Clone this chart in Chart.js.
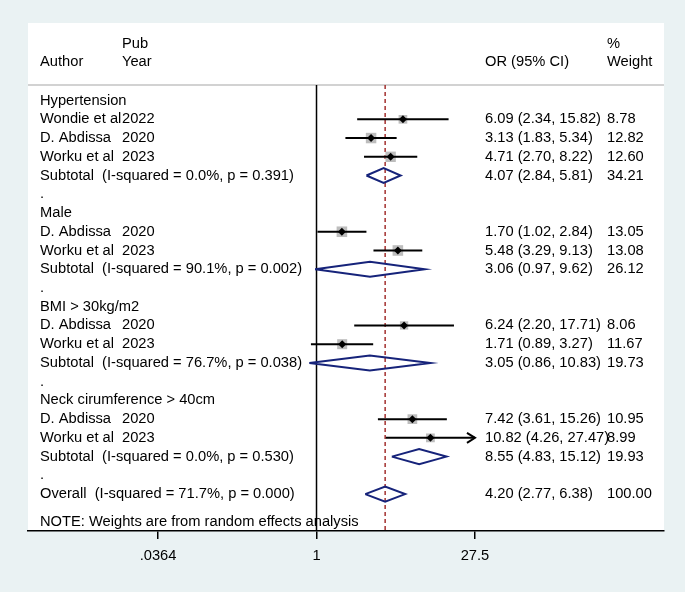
<!DOCTYPE html>
<html>
<head>
<meta charset="utf-8">
<script src="https://cdn.jsdelivr.net/npm/chart.js@4"></script>
<style>
  html, body { margin: 0; padding: 0; background: #eaf2f3; }
  #wrap { width: 685px; height: 592px; position: relative; }
</style>
</head>
<body>
<div id="wrap"><canvas id="forest"></canvas></div>
<script>
// Table rows, top to bottom (row 0 = first group title)
const rowLabels = [
    'Hypertension', 'Wondie et al', 'D. Abdissa', 'Worku et al', 'Subtotal  (I-squared = 0.0%, p = 0.391)', '.',
    'Male', 'D. Abdissa', 'Worku et al', 'Subtotal  (I-squared = 90.1%, p = 0.002)', '.',
    'BMI > 30kg/m2', 'D. Abdissa', 'Worku et al', 'Subtotal  (I-squared = 76.7%, p = 0.038)', '.',
    'Neck cirumference > 40cm', 'D. Abdissa', 'Worku et al', 'Subtotal  (I-squared = 0.0%, p = 0.530)', '.',
    'Overall  (I-squared = 71.7%, p = 0.000)'
];
const rowYears = ['', '2022', '2020', '2023', '', '', '', '2020', '2023', '', '', '', '2020', '2023', '', '', '', '2020', '2023', '', '', ''];

// Individual studies
const studyRows = [1, 2, 3, 7, 8, 12, 13, 17, 18];
const studyOR = [6.09, 3.13, 4.71, 1.70, 5.48, 6.24, 1.71, 7.42, 10.82];
const studyLo = [2.34, 1.83, 2.70, 1.02, 3.29, 2.20, 0.89, 3.61, 4.26];
const studyHi = [15.82, 5.34, 8.22, 2.84, 9.13, 17.71, 3.27, 15.26, 27.47];
const studyWeight = [8.78, 12.82, 12.60, 13.05, 13.08, 8.06, 11.67, 10.95, 8.99];

// Pooled estimates (subtotals and overall)
const poolRows = [4, 9, 14, 19, 21];
const poolOR = [4.07, 3.06, 3.05, 8.55, 4.20];
const poolLo = [2.84, 0.97, 0.86, 4.83, 2.77];
const poolHi = [5.81, 9.62, 10.83, 15.12, 6.38];
const poolWeight = [34.21, 26.12, 19.73, 19.93, 100.00];

// x axis ticks
const tickValues = [1 / 27.47, 1, 27.47];
const tickLabels = ['.0364', '1', '27.5'];
const noteText = 'NOTE: Weights are from random effects analysis';

// layout (not data)
const X_MIN = 0.0024, X_MAX = 1430;
const Y_TOP = -4.14, Y_BOTTOM = 22.97;
const HEADER_LINE = -0.83, HEAD_ROW1 = -3.01, HEAD_ROW2 = -2.05, NOTE_ROW = 22.47;
const COL = { author: 40, year: 122, or: 485, weight: 607 };
const FONT_FAMILY = '"Liberation Sans", Arial, sans-serif';
const FONT = '14.7px ' + FONT_FAMILY;
const DIAMOND_H = 0.4;

const ciMin = tickValues[0], ciMax = tickValues[tickValues.length - 1];
const overallOR = poolOR[poolOR.length - 1];

function orText(or, lo, hi) {
    return or.toFixed(2) + ' (' + lo.toFixed(2) + ', ' + hi.toFixed(2) + ')';
}

const datasets = [];

// black centre markers
datasets.push({
    type: 'scatter', order: 0,
    data: studyOR.map((v, i) => ({ x: v, y: studyRows[i] })),
    pointStyle: 'rectRot', pointRadius: 4, backgroundColor: '#000', borderWidth: 0
});
// confidence intervals
studyOR.forEach((v, i) => {
    datasets.push({
        type: 'line', order: 1,
        data: [{ x: Math.max(studyLo[i], ciMin), y: studyRows[i] }, { x: Math.min(studyHi[i], ciMax), y: studyRows[i] }],
        borderColor: '#000', borderWidth: 2, pointRadius: 0, tension: 0
    });
});
// weight squares
datasets.push({
    type: 'scatter', order: 2,
    data: studyOR.map((v, i) => ({ x: v, y: studyRows[i] })),
    pointStyle: 'rect',
    pointRadius: ctx => 2.07 * Math.sqrt(studyWeight[ctx.dataIndex] || 0),
    backgroundColor: '#bdbdbd', borderWidth: 0
});
// pooled diamonds
poolOR.forEach((v, i) => {
    const r = poolRows[i];
    datasets.push({
        type: 'line', order: 3,
        data: [
            { x: poolLo[i], y: r }, { x: v, y: r - DIAMOND_H }, { x: poolHi[i], y: r },
            { x: v, y: r + DIAMOND_H }, { x: poolLo[i], y: r }
        ],
        borderColor: '#16237a', borderWidth: 2, borderJoinStyle: 'miter', pointRadius: 0, tension: 0
    });
});
// null line and overall line
datasets.push({
    type: 'line', order: 4,
    data: [{ x: 1, y: HEADER_LINE }, { x: 1, y: Y_BOTTOM }],
    borderColor: '#000', borderWidth: 1.5, pointRadius: 0
});
datasets.push({
    type: 'line', order: 4,
    data: [{ x: overallOR, y: HEADER_LINE }, { x: overallOR, y: Y_BOTTOM }],
    borderColor: '#a3302f', borderWidth: 1.5, borderDash: [4, 3], pointRadius: 0
});

const forestPlugin = {
    id: 'forest',
    beforeDraw(chart) {
        const { ctx, chartArea: a, scales } = chart;
        ctx.save();
        ctx.fillStyle = '#fff';
        ctx.fillRect(a.left, a.top, a.right - a.left, a.bottom - a.top);
        const y = scales.y.getPixelForValue(HEADER_LINE);
        ctx.strokeStyle = '#d2d2d2';
        ctx.lineWidth = 2;
        ctx.beginPath();
        ctx.moveTo(a.left, y);
        ctx.lineTo(a.right, y);
        ctx.stroke();
        ctx.restore();
    },
    afterDatasetsDraw(chart) {
        // arrows for truncated intervals
        const { ctx, scales } = chart;
        ctx.save();
        ctx.strokeStyle = '#000';
        ctx.lineWidth = 2;
        studyHi.forEach((hi, i) => {
            if (hi < ciMax) return;
            const tx = scales.x.getPixelForValue(ciMax);
            const ty = scales.y.getPixelForValue(studyRows[i]);
            ctx.beginPath();
            ctx.moveTo(tx - 8, ty - 5);
            ctx.lineTo(tx, ty);
            ctx.lineTo(tx - 8, ty + 5);
            ctx.stroke();
        });
        ctx.restore();
    },
    afterDraw(chart) {
        const { ctx, scales } = chart;
        const py = v => scales.y.getPixelForValue(v);
        ctx.save();
        ctx.font = FONT;
        ctx.fillStyle = '#000';
        ctx.textBaseline = 'middle';
        ctx.textAlign = 'left';
        // header
        ctx.fillText('Author', COL.author, py(HEAD_ROW2));
        ctx.fillText('Pub', COL.year, py(HEAD_ROW1));
        ctx.fillText('Year', COL.year, py(HEAD_ROW2));
        ctx.fillText('OR (95% CI)', COL.or, py(HEAD_ROW2));
        ctx.fillText('%', COL.weight, py(HEAD_ROW1));
        ctx.fillText('Weight', COL.weight, py(HEAD_ROW2));
        // rows
        rowLabels.forEach((t, r) => {
            ctx.fillText(t, COL.author, py(r));
            if (rowYears[r]) ctx.fillText(rowYears[r], COL.year, py(r));
        });
        studyOR.forEach((v, i) => {
            ctx.fillText(orText(v, studyLo[i], studyHi[i]), COL.or, py(studyRows[i]));
            ctx.fillText(studyWeight[i].toFixed(2), COL.weight, py(studyRows[i]));
        });
        poolOR.forEach((v, i) => {
            ctx.fillText(orText(v, poolLo[i], poolHi[i]), COL.or, py(poolRows[i]));
            ctx.fillText(poolWeight[i].toFixed(2), COL.weight, py(poolRows[i]));
        });
        ctx.fillText(noteText, COL.author, py(NOTE_ROW));
        ctx.restore();
    }
};

new Chart(document.getElementById('forest'), {
    type: 'scatter',
    data: { datasets: datasets },
    options: {
        responsive: true,
        maintainAspectRatio: false,
        animation: false,
        layout: { padding: { left: 28, right: 21, top: 23, bottom: 0 } },
        plugins: { legend: { display: false }, tooltip: { enabled: false } },
        scales: {
            x: {
                type: 'logarithmic',
                min: X_MIN,
                max: X_MAX,
                afterBuildTicks: scale => { scale.ticks = tickValues.map(v => ({ value: v })); },
                afterFit: scale => { scale.height = 61; },
                ticks: {
                    autoSkip: false, maxRotation: 0, padding: 8,
                    color: '#000', font: { family: FONT_FAMILY, size: 14.7 },
                    callback: (v, i) => tickLabels[i]
                },
                grid: { display: true, drawOnChartArea: false, drawTicks: true, tickLength: 8, color: '#000', lineWidth: 1.5 },
                border: { display: true, color: '#000', width: 1.5 }
            },
            y: { type: 'linear', reverse: true, min: Y_TOP, max: Y_BOTTOM, display: false }
        }
    },
    plugins: [forestPlugin]
});
</script>
</body>
</html>
